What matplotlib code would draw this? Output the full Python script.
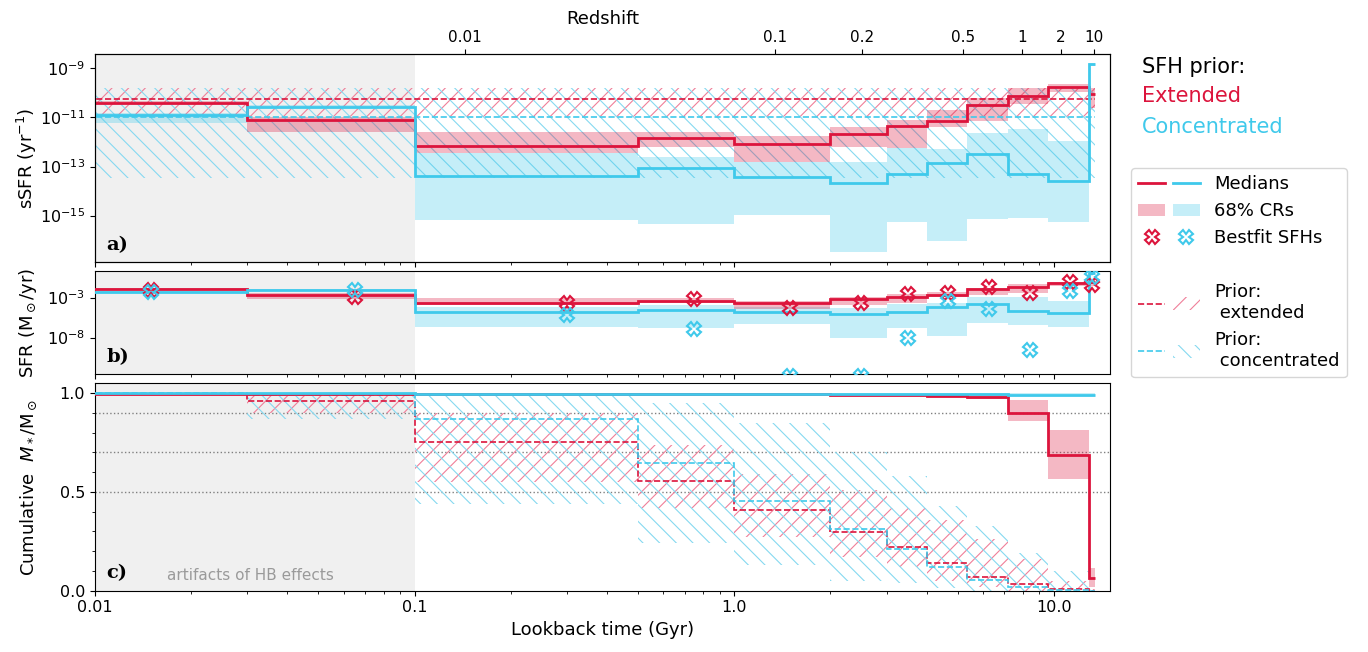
import numpy as np
import matplotlib
matplotlib.use('Agg')
import matplotlib.pyplot as plt
from matplotlib.lines import Line2D
from matplotlib.patches import Patch
from matplotlib.legend_handler import HandlerTuple
from matplotlib.ticker import NullLocator, MultipleLocator

plt.rcParams['hatch.linewidth'] = 0.8

# colours
RED = '#DC143C'
BLUE = '#3FC9EB'
RED_H = '#EF7F99'
BLUE_H = '#86D9F0'

# lookback-time bin edges (Gyr)
edges = [0.001, 0.03, 0.1, 0.5, 1.0, 2.0, 3.0, 4.0, 5.36, 7.18, 9.61, 12.87, 13.5]
bf_time = [0.015, 0.065, 0.3, 0.75, 1.5, 2.5, 3.5, 4.68, 6.27, 8.4, 11.24, 13.19]

# a) log10 sSFR (yr^-1)
ssfr_ext_med = [-10.40, -11.12, -12.16, -11.82, -12.09, -11.66, -11.35, -11.16, -10.48, -10.14, -9.76, -10.06]
ssfr_ext_lo = [-10.47, -11.60, -12.46, -12.19, -12.80, -12.19, -12.23, -11.38, -11.13, -10.45, -9.95, -10.63]
ssfr_ext_hi = [-10.33, -10.97, -11.58, -11.60, -11.74, -11.40, -11.10, -10.70, -10.22, -9.81, -9.64, -9.81]
ssfr_con_med = [-10.91, -10.56, -13.38, -13.07, -13.41, -13.66, -13.30, -12.84, -12.50, -13.30, -13.57, -8.84]
ssfr_con_lo = [-11.21, -10.62, -15.17, -15.34, -14.97, -16.50, -15.27, -16.03, -15.13, -15.10, -15.24, -8.90]
ssfr_con_hi = [-10.83, -10.50, -12.46, -12.60, -12.80, -12.83, -12.23, -12.28, -11.62, -11.48, -11.95, -8.78]
prior_ext_ssfr = -10.26
prior_ext_ssfr_band = (-10.97, -9.81)
prior_con_ssfr = -11.0
prior_con_ssfr_band = (-13.48, -9.81)

# b) log10 SFR (Msun/yr)
sfr_ext_med = [-1.91, -2.63, -3.70, -3.37, -3.62, -3.16, -2.88, -2.63, -1.95, -1.63, -1.20, -1.07]
sfr_ext_lo = [-2.00, -3.12, -3.91, -3.71, -4.45, -3.91, -3.71, -2.87, -2.66, -2.45, -1.54, -1.60]
sfr_ext_hi = [-1.82, -2.45, -3.08, -3.00, -3.41, -2.87, -2.54, -2.29, -1.79, -1.29, -1.00, -0.80]
sfr_con_med = [-2.32, -2.04, -4.79, -4.54, -4.75, -5.04, -4.75, -4.20, -3.83, -4.66, -4.95, 0.10]
sfr_con_lo = [-2.45, -2.10, -6.62, -6.75, -6.25, -8.00, -6.83, -7.80, -6.20, -6.41, -6.62, 0.04]
sfr_con_hi = [-2.20, -1.95, -4.12, -3.91, -4.20, -4.33, -3.79, -3.70, -2.95, -2.87, -3.37, 0.16]
bf_ext = [-2.04, -2.94, -3.62, -3.20, -4.33, -3.71, -2.58, -2.45, -1.63, -2.45, -1.00, -1.41]
bf_con = [-2.33, -2.00, -5.16, -6.96, -12.8, -12.8, -8.00, -3.41, -4.45, -9.54, -2.12, -0.37]

# c) cumulative mass fraction
cum_ext_med = [0.998, 0.997, 0.996, 0.995, 0.994, 0.993, 0.991, 0.987, 0.980, 0.902, 0.688, 0.063]
cum_ext_lo = [0.995, 0.994, 0.993, 0.992, 0.991, 0.989, 0.986, 0.980, 0.970, 0.857, 0.566, 0.020]
cum_ext_hi = [1.0, 1.0, 1.0, 0.999, 0.998, 0.997, 0.995, 0.992, 0.990, 0.964, 0.816, 0.115]
cum_con_med = [0.999, 0.999, 0.998, 0.998, 0.997, 0.997, 0.996, 0.995, 0.994, 0.993, 0.992, 0.990]
cum_con_lo = [0.997, 0.997, 0.996, 0.996, 0.995, 0.995, 0.994, 0.993, 0.992, 0.991, 0.990, 0.987]
cum_con_hi = [1.0] * 12
cum_prior_ext = [0.998, 0.963, 0.752, 0.558, 0.409, 0.299, 0.220, 0.140, 0.068, 0.032, 0.007, 0.0]
cum_prior_ext_lo = [0.99, 0.90, 0.55, 0.42, 0.27, 0.17, 0.12, 0.05, 0.02, 0.0, 0.0, 0.0]
cum_prior_ext_hi = [1.0, 0.99, 0.90, 0.74, 0.59, 0.51, 0.42, 0.36, 0.26, 0.16, 0.05, 0.01]
cum_prior_con = [0.999, 0.990, 0.869, 0.649, 0.456, 0.311, 0.210, 0.119, 0.054, 0.020, 0.005, 0.0]
cum_prior_con_lo = [0.99, 0.87, 0.44, 0.24, 0.13, 0.05, 0.04, 0.015, 0.0, 0.0, 0.0, 0.0]
cum_prior_con_hi = [1.0, 0.99, 1.0, 0.95, 0.85, 0.705, 0.58, 0.43, 0.33, 0.19, 0.10, 0.01]
cum_levels = [0.9, 0.7, 0.5]

# redshift ticks on top axis
z_ticks = [0.01, 0.1, 0.2, 0.5, 1, 2, 10]
z_labels = ['0.01', '0.1', '0.2', '0.5', '1', '2', '10']


def lookback(z, H0=67.7, Om=0.31):
    zz = np.linspace(0, z, 4000)
    E = np.sqrt(Om * (1 + zz) ** 3 + 1 - Om)
    return 977.8 / H0 * np.trapezoid(1.0 / ((1 + zz) * E), zz)


def p(v):
    return 10.0 ** np.asarray(v, dtype=float)


fig = plt.figure(figsize=(13.68, 6.52), dpi=100)
ax_a = fig.add_axes([0.0694, 0.5977, 0.742, 0.319])
ax_b = fig.add_axes([0.0694, 0.4264, 0.742, 0.158])
ax_c = fig.add_axes([0.0694, 0.094, 0.742, 0.318])
nb = len(edges) - 1

for ax in (ax_a, ax_b, ax_c):
    ax.set_xscale('log')
    ax.set_xlim(0.01, 15)
    ax.axvspan(0.01, 0.1, color='#f0f0f0', zorder=0, lw=0)
    ax.set_xticks([0.01, 0.1, 1, 10])
    ax.tick_params(labelsize=11.5)

# ---- a) sSFR
ax_a.set_yscale('log')
ax_a.stairs(p(np.full(nb, prior_ext_ssfr_band[1])), edges, baseline=p(np.full(nb, prior_ext_ssfr_band[0])),
            fill=True, facecolor='none', edgecolor=RED_H, hatch='//', lw=0, zorder=1)
ax_a.stairs(p(np.full(nb, prior_con_ssfr_band[1])), edges, baseline=p(np.full(nb, prior_con_ssfr_band[0])),
            fill=True, facecolor='none', edgecolor=BLUE_H, hatch='\\\\', lw=0, zorder=1)
ax_a.stairs(p(ssfr_con_hi), edges, baseline=p(ssfr_con_lo), fill=True, color=BLUE, alpha=0.3, zorder=2)
ax_a.stairs(p(ssfr_ext_hi), edges, baseline=p(ssfr_ext_lo), fill=True, color=RED, alpha=0.3, zorder=2)
ax_a.stairs(p(np.full(nb, prior_ext_ssfr)), edges, baseline=None, color=RED, ls='--', lw=1.2, zorder=3)
ax_a.stairs(p(np.full(nb, prior_con_ssfr)), edges, baseline=None, color=BLUE, ls='--', lw=1.2, zorder=3)
ax_a.stairs(p(ssfr_ext_med), edges, baseline=None, color=RED, lw=2, zorder=4)
ax_a.stairs(p(ssfr_con_med), edges, baseline=None, color=BLUE, lw=2, zorder=4)
ax_a.set_ylim(10 ** -16.9, 10 ** -8.43)
ax_a.set_yticks([1e-15, 1e-13, 1e-11, 1e-9])
ax_a.yaxis.set_minor_locator(NullLocator())
ax_a.tick_params(labelbottom=False)
ax_a.set_ylabel(r'sSFR (yr$^{-1}$)', fontsize=13)

top = ax_a.twiny()
top.set_xscale('log')
top.set_xlim(ax_a.get_xlim())
top.set_xticks([lookback(z) for z in z_ticks])
top.set_xticklabels(z_labels)
top.xaxis.set_minor_locator(NullLocator())
top.tick_params(labelsize=11)
top.set_xlabel('Redshift', fontsize=13)

# ---- b) SFR
ax_b.set_yscale('log')
ax_b.stairs(p(sfr_con_hi), edges, baseline=p(sfr_con_lo), fill=True, color=BLUE, alpha=0.3, zorder=2)
ax_b.stairs(p(sfr_ext_hi), edges, baseline=p(sfr_ext_lo), fill=True, color=RED, alpha=0.3, zorder=2)
ax_b.stairs(p(sfr_ext_med), edges, baseline=None, color=RED, lw=2, zorder=4)
ax_b.stairs(p(sfr_con_med), edges, baseline=None, color=BLUE, lw=2, zorder=4)
ax_b.plot(bf_time, p(bf_ext), ls='none', marker='X', ms=10, mfc='none', mec=RED, mew=1.5, zorder=5)
ax_b.plot(bf_time, p(bf_con), ls='none', marker='X', ms=10, mfc='none', mec=BLUE, mew=1.5, zorder=5)
ax_b.set_ylim(10 ** -12.54, 10 ** 0.33)
ax_b.set_yticks([1e-8, 1e-3])
ax_b.yaxis.set_minor_locator(NullLocator())
ax_b.tick_params(labelbottom=False)
ax_b.set_ylabel(r'SFR (M$_\odot$/yr)', fontsize=13)

# ---- c) cumulative mass
for lv in cum_levels:
    ax_c.axhline(lv, color='gray', ls=':', lw=1, zorder=1)
ax_c.stairs(cum_prior_ext_hi, edges, baseline=cum_prior_ext_lo, fill=True, facecolor='none',
            edgecolor=RED_H, hatch='//', lw=0, zorder=1)
ax_c.stairs(cum_prior_con_hi, edges, baseline=cum_prior_con_lo, fill=True, facecolor='none',
            edgecolor=BLUE_H, hatch='\\\\', lw=0, zorder=1)
ax_c.stairs(cum_ext_hi, edges, baseline=cum_ext_lo, fill=True, color=RED, alpha=0.3, zorder=2)
ax_c.stairs(cum_con_hi, edges, baseline=cum_con_lo, fill=True, color=BLUE, alpha=0.3, zorder=2)
ax_c.stairs(cum_prior_ext, edges, baseline=None, color=RED, ls='--', lw=1.2, zorder=3)
ax_c.stairs(cum_prior_con, edges, baseline=None, color=BLUE, ls='--', lw=1.2, zorder=3)
ax_c.stairs(cum_ext_med, edges, baseline=None, color=RED, lw=2, zorder=4)
ax_c.stairs(cum_con_med, edges, baseline=None, color=BLUE, lw=2, zorder=4)
ax_c.set_ylim(0, 1.05)
ax_c.set_yticks([0, 0.5, 1.0])
ax_c.set_yticklabels(['0.0', '0.5', '1.0'])
ax_c.yaxis.set_minor_locator(MultipleLocator(0.1))
ax_c.set_xticklabels(['0.01', '0.1', '1.0', '10.0'])
ax_c.set_xlabel('Lookback time (Gyr)', fontsize=13)
ax_c.set_ylabel(r'Cumulative  $M_*$/M$_\odot$', fontsize=13)
ax_c.text(0.0706, 0.075, 'artifacts of HB effects', transform=ax_c.transAxes,
          color='#9a9a9a', fontsize=11, va='center', ha='left')

for ax, lab in zip((ax_a, ax_b, ax_c), ('a)', 'b)', 'c)')):
    ax.annotate(lab, xy=(0, 0), xycoords='axes fraction', xytext=(8, 6), textcoords='offset points',
                fontsize=14, fontweight='bold', family='serif', va='bottom', ha='left')
    ax.yaxis.set_label_coords(-0.055, 0.5)

# ---- legend
handles = [
    (Line2D([], [], color=RED, lw=2), Line2D([], [], color=BLUE, lw=2)),
    (Patch(facecolor=RED, alpha=0.3, lw=0), Patch(facecolor=BLUE, alpha=0.3, lw=0)),
    (Line2D([], [], ls='none', marker='X', ms=10, mfc='none', mec=RED, mew=1.5),
     Line2D([], [], ls='none', marker='X', ms=10, mfc='none', mec=BLUE, mew=1.5)),
    Line2D([], [], color='none'),
    (Line2D([], [], color=RED, ls='--', lw=1.2), Patch(facecolor='none', edgecolor=RED_H, hatch='//', lw=0)),
    (Line2D([], [], color=BLUE, ls='--', lw=1.2), Patch(facecolor='none', edgecolor=BLUE_H, hatch='\\\\', lw=0)),
]
labels = ['Medians', '68% CRs', 'Bestfit SFHs', '', 'Prior:\n extended', 'Prior:\n concentrated']
fig.legend(handles, labels, loc='upper left', bbox_to_anchor=(0.8202, 0.756), fontsize=13,
           handlelength=3.4, handler_map={tuple: HandlerTuple(ndivide=None, pad=0.4)})

fig.text(0.835, 0.897, 'SFH prior:', fontsize=15, va='center', ha='left')
fig.text(0.835, 0.853, 'Extended', fontsize=15, va='center', ha='left', color=RED)
fig.text(0.835, 0.805, 'Concentrated', fontsize=15, va='center', ha='left', color=BLUE)

fig.savefig('out.png', dpi=100)
